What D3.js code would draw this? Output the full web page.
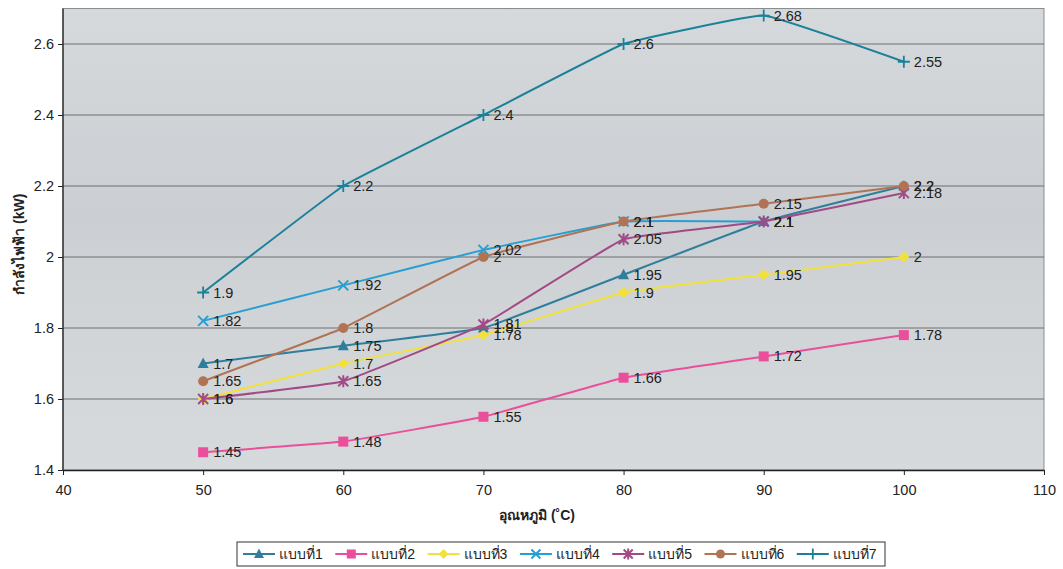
<!DOCTYPE html>
<html>
<head>
<meta charset="utf-8">
<script src="https://cdn.jsdelivr.net/npm/d3@7"></script>
<style>
  html, body { margin: 0; padding: 0; background: #ffffff; }
  svg { display: block; font-family: "Liberation Sans", Arial, "DejaVu Sans", sans-serif; }
</style>
</head>
<body>
<svg id="chart" width="1063" height="569"></svg>
<script>
// Temperature (°C) on the x axis, electric power (kW) on the y axis
const temperatures = [50, 60, 70, 80, 90, 100];
const seriesNames = ["แบบที่1", "แบบที่2", "แบบที่3", "แบบที่4", "แบบที่5", "แบบที่6", "แบบที่7"];
const design1 = [1.7, 1.75, 1.8, 1.95, 2.1, 2.2];
const design2 = [1.45, 1.48, 1.55, 1.66, 1.72, 1.78];
const design3 = [1.6, 1.7, 1.78, 1.9, 1.95, 2];
const design4 = [1.82, 1.92, 2.02, 2.1, 2.1];
const design5 = [1.6, 1.65, 1.81, 2.05, 2.1, 2.18];
const design6 = [1.65, 1.8, 2, 2.1, 2.15, 2.2];
const design7 = [1.9, 2.2, 2.4, 2.6, 2.68, 2.55];
const xTickValues = [40, 50, 60, 70, 80, 90, 100, 110];
const xTickLabels = ["40", "50", "60", "70", "80", "90", "100", "110"];
const yTickValues = [1.4, 1.6, 1.8, 2.0, 2.2, 2.4, 2.6];
const yTickLabels = ["1.4", "1.6", "1.8", "2", "2.2", "2.4", "2.6"];
const xTitle = "อุณหภูมิ (˚C)";
const yTitle = "กำลังไฟฟ้า (kW)";

const seriesValues = [design1, design2, design3, design4, design5, design6, design7];
const colors = ["#2f7f9c", "#ea4f9b", "#f2e13a", "#279fd3", "#a24a86", "#b07355", "#1b8199"];
const symbols = ["triangle", "square", "diamond", "cross", "asterisk", "circle", "plus"];

const svg = d3.select("#chart");
const plot = { left: 63, right: 1044, top: 8.5, bottom: 470 };

const x = d3.scaleLinear().domain([40, 110]).range([plot.left, plot.right]);
const y = d3.scaleLinear().domain([1.4, 2.7]).range([plot.bottom, plot.top]);

// plot-area background
const defs = svg.append("defs");
const grad = defs.append("linearGradient").attr("id", "bg").attr("x1", 0).attr("y1", 0).attr("x2", 0).attr("y2", 1);
grad.append("stop").attr("offset", "0%").attr("stop-color", "#d6d9dc");
grad.append("stop").attr("offset", "45%").attr("stop-color", "#cbced2");
grad.append("stop").attr("offset", "60%").attr("stop-color", "#d0d3d6");
grad.append("stop").attr("offset", "100%").attr("stop-color", "#d7dadd");

svg.append("rect")
  .attr("x", plot.left).attr("y", plot.top)
  .attr("width", plot.right - plot.left).attr("height", plot.bottom - plot.top)
  .attr("fill", "url(#bg)")
  .attr("stroke", "#8a8d90").attr("stroke-width", 1);

// horizontal gridlines
svg.append("g").selectAll("line")
  .data(yTickValues.slice(1))
  .join("line")
  .attr("x1", plot.left).attr("x2", plot.right)
  .attr("y1", d => y(d)).attr("y2", d => y(d))
  .attr("stroke", "#6d7073").attr("stroke-width", 1);

// axes
const xAxis = d3.axisBottom(x).tickValues(xTickValues)
  .tickFormat((d, i) => xTickLabels[i]).tickSizeInner(5).tickSizeOuter(0).tickPadding(10);
const gx = svg.append("g").attr("transform", `translate(0,${plot.bottom})`).call(xAxis);
gx.select(".domain").attr("stroke", "#222").attr("stroke-width", 1.3);
gx.selectAll(".tick line").attr("stroke", "#222");
gx.selectAll(".tick text").attr("font-size", 14.5).attr("fill", "#222").attr("font-family", "Liberation Sans, Arial, sans-serif");

const yAxis = d3.axisLeft(y).tickValues(yTickValues)
  .tickFormat((d, i) => yTickLabels[i]).tickSizeInner(5).tickSizeOuter(0).tickPadding(4);
const gy = svg.append("g").attr("transform", `translate(${plot.left},0)`).call(yAxis);
gy.select(".domain").attr("stroke", "#222").attr("stroke-width", 1.3)
  .attr("d", `M0,${plot.bottom}V${plot.top}`);
gy.selectAll(".tick line").attr("stroke", "#222");
gy.selectAll(".tick text").attr("font-size", 14.5).attr("fill", "#222").attr("font-family", "Liberation Sans, Arial, sans-serif");

// axis titles
svg.append("text")
  .attr("x", 537).attr("y", 520)
  .attr("text-anchor", "middle").attr("font-size", 14).attr("font-weight", "bold").attr("fill", "#222")
  .text(xTitle);
svg.append("text")
  .attr("transform", `translate(24,${(plot.top + plot.bottom) / 2 + 5}) rotate(-90)`)
  .attr("text-anchor", "middle").attr("font-size", 14).attr("font-weight", "bold").attr("fill", "#222")
  .text(yTitle);

// marker drawing
function drawMarker(g, type, color, size) {
  const s = size;
  switch (type) {
    case "triangle":
      g.append("path").attr("d", `M0,${-s * 0.6}L${s * 0.55},${s * 0.45}L${-s * 0.55},${s * 0.45}Z`).attr("fill", color);
      break;
    case "square":
      g.append("rect").attr("x", -s / 2).attr("y", -s / 2).attr("width", s).attr("height", s).attr("fill", color);
      break;
    case "diamond":
      g.append("path").attr("d", `M0,${-s * 0.55}L${s * 0.55},0L0,${s * 0.55}L${-s * 0.55},0Z`).attr("fill", color);
      break;
    case "cross":
      g.append("path").attr("d", `M${-s / 2},${-s / 2}L${s / 2},${s / 2}M${-s / 2},${s / 2}L${s / 2},${-s / 2}`)
        .attr("stroke", color).attr("stroke-width", 2).attr("fill", "none");
      break;
    case "asterisk":
      g.append("path").attr("d", `M${-s / 2},${-s / 2}L${s / 2},${s / 2}M${-s / 2},${s / 2}L${s / 2},${-s / 2}M0,${-s * 0.6}V${s * 0.6}`)
        .attr("stroke", color).attr("stroke-width", 2).attr("fill", "none");
      break;
    case "circle":
      g.append("circle").attr("r", s / 2).attr("fill", color);
      break;
    case "plus":
      g.append("path").attr("d", `M${-s * 0.6},0H${s * 0.6}M0,${-s * 0.6}V${s * 0.6}`)
        .attr("stroke", color).attr("stroke-width", 1.8).attr("fill", "none");
      break;
  }
}

// gently smoothed polylines
const line = d3.line()
  .x(d => x(d.t))
  .y(d => y(d.v))
  .curve(d3.curveCardinal.tension(0.75));

const seriesData = seriesValues.map((vals, i) => ({
  name: seriesNames[i],
  color: colors[i],
  symbol: symbols[i],
  points: vals.map((v, j) => ({ t: temperatures[j], v }))
}));

const seriesG = svg.append("g");
seriesData.forEach(s => {
  const g = seriesG.append("g");
  g.append("path").attr("d", line(s.points))
    .attr("fill", "none").attr("stroke", s.color).attr("stroke-width", 2);
  s.points.forEach(p => {
    const mg = g.append("g").attr("transform", `translate(${x(p.t)},${y(p.v)})`);
    drawMarker(mg, s.symbol, s.color, 10);
  });
});

// value labels, one per point, right of its marker
const labelG = svg.append("g");
seriesData.forEach(s => {
  labelG.selectAll(null)
    .data(s.points)
    .join("text")
    .attr("x", d => x(d.t) + 10)
    .attr("y", d => y(d.v) + 5)
    .attr("font-size", 14.5).attr("fill", "#222")
    .text(d => String(d.v));
});

// legend
const legend = svg.append("g").attr("transform", "translate(237,542)");
legend.append("rect").attr("x", 0).attr("y", 0).attr("width", 648).attr("height", 24)
  .attr("fill", "#ffffff").attr("stroke", "#333").attr("stroke-width", 1);
seriesData.forEach((s, i) => {
  const item = legend.append("g").attr("transform", `translate(${6 + i * 92.3},12)`);
  item.append("line").attr("x1", 0).attr("x2", 32).attr("y1", 0).attr("y2", 0)
    .attr("stroke", s.color).attr("stroke-width", 2);
  const mg = item.append("g").attr("transform", "translate(16,0)");
  drawMarker(mg, s.symbol, s.color, 9);
  item.append("text").attr("x", 36).attr("y", 5).attr("font-size", 14).attr("fill", "#222").text(s.name);
});
</script>
</body>
</html>
